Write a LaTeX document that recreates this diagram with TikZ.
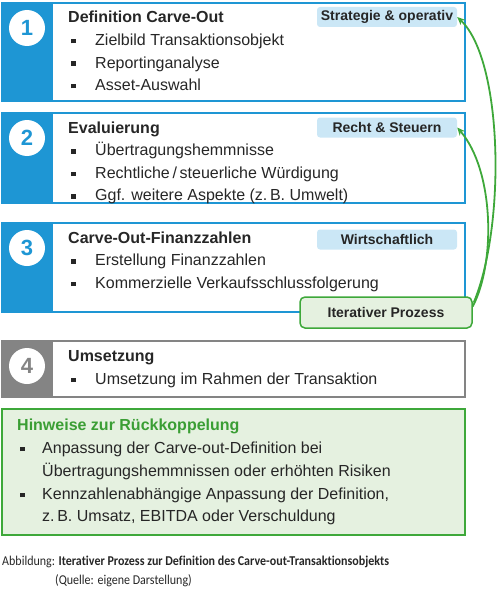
\documentclass[tikz,border=0pt]{standalone}
\usepackage{fontspec}
\setmainfont{Liberation Sans}
\newfontfamily\capfont[Ligatures=NoCommon]{Carlito}
\usetikzlibrary{arrows.meta}

\definecolor{cblue}{HTML}{1E96D4}
\definecolor{cgray}{HTML}{848484}
\definecolor{ctag}{HTML}{CBE7F6}
\definecolor{ctext}{HTML}{262626}
\definecolor{cgreen}{HTML}{3EA83A}
\definecolor{cgreenbg}{HTML}{E5F1E0}
\definecolor{cgreentxt}{HTML}{3A9E34}

\newcommand{\blt}[1][24pt]{\makebox[#1][l]{\rule[2pt]{4.5pt}{4.5pt}}}

\begin{document}
\begin{tikzpicture}
	[x=1pt,y=-1pt,font=\fontsize{16}{19}\selectfont,
	every node/.style={inner sep=0pt,text=ctext},
	frame/.style={draw=#1,line width=2pt,anchor=north west,minimum width=463pt},
	strip/.style={fill=#1,anchor=north west,minimum width=52pt},
	num/.style={circle,fill=white,minimum size=36pt,font=\fontsize{22}{22}\selectfont\bfseries},
	ttl/.style={anchor=base west,font=\fontsize{16}{19}\selectfont\bfseries},
	item/.style={anchor=base west},
	tag/.style={fill=ctag,rounded corners=3pt,minimum width=140pt,minimum height=20pt,
		font=\fontsize{14}{16}\selectfont\bfseries},
	capt/.style={anchor=base west,font=\capfont\fontsize{13.5}{16}\selectfont},
	loop/.style={draw=cgreen,line width=1.8pt,-{Stealth[length=8pt,width=7pt]}}]
	\useasboundingbox (0,0) rectangle (500,594);
	
	\foreach \n/\top/\h/\col in {1/2/98/cblue,2/112/90/cblue,3/222/89/cblue,4/340/56/cgray}
	{
		\node[strip=\col,minimum height=\h pt] (s\n) at (1,\top) {};
		\node[frame=\col,minimum height=\h pt] (b\n) at (1,\top) {};
		\node[num,text=\col] (c\n) at (27,\top+26) {\n};
	}
	
	\node[ttl] (h1) at (68,23) {Definition Carve-Out};
	\node[item] (p11) at (71,45.5) {\blt Zielbild Transaktionsobjekt};
	\node[item] (p12) at (71,68) {\blt Reportinganalyse};
	\node[item] (p13) at (71,90.5) {\blt Asset-Auswahl};
	
	\node[ttl] (h2) at (68,133) {Evaluierung};
	\node[item] (p21) at (71,155.5) {\blt Übertragungshemmnisse};
	\node[item] (p22) at (71,178) {\blt Rechtliche\,/\,steuerliche Würdigung};
	\node[item] (p23) at (71,200.5) {\blt Ggf. weitere Aspekte (z.\,B. Umwelt)};
	
	\node[ttl] (h3) at (68,243) {Carve-Out-Finanzzahlen};
	\node[item] (p31) at (71,265.5) {\blt Erstellung Finanzzahlen};
	\node[item] (p32) at (71,288) {\blt Kommerzielle Verkaufsschlussfolgerung};
	
	\node[ttl] (h4) at (68,361) {Umsetzung};
	\node[item] (p41) at (71,384) {\blt Umsetzung im Rahmen der Transaktion};
	
	\node[tag] (t1) at (387,17) {Strategie \& operativ};
	\node[tag] (t2) at (387,127.5) {Recht \& Steuern};
	\node[tag] (t3) at (387,239.5) {Wirtschaftlich};
	
	\node[fill=cgreenbg,draw=cgreen,line width=1.5pt,rounded corners=5pt,
		minimum width=172pt,minimum height=31pt,font=\fontsize{14}{16}\selectfont\bfseries]
		(it) at (386,312.5) {Iterativer Prozess};
	
	\draw[loop] ([xshift=1pt,yshift=10pt]it.east) .. controls (506,225) and (503,60) .. (t1.east);
	\draw[loop] ([yshift=6pt]it.east) .. controls (496,262) and (494,170) .. (t2.east);
	
	\node[frame=cgreen,fill=cgreenbg,minimum height=126pt] (hw) at (1,408) {};
	\node[ttl,text=cgreentxt] (h5) at (17,430) {Hinweise zur Rückkoppelung};
	\node[item] (p51) at (20,453) {\blt[22pt]Anpassung der Carve-out-Definition bei};
	\node[item] (p52) at (42,476) {Übertragungshemmnissen oder erhöhten Risiken};
	\node[item] (p53) at (20,499) {\blt[22pt]Kennzahlenabhängige Anpassung der Definition,};
	\node[item] (p54) at (42,521) {z.\,B. Umsatz, EBITDA oder Verschuldung};
	
	\node[capt] (cap1) at (2,565)
		{\scalebox{0.89}[1]{Abbildung: \textbf{Iterativer Prozess zur Definition des Carve-out-Transaktionsobjekts}}};
	\node[capt] (cap2) at (55,584)
		{\scalebox{0.89}[1]{(Quelle: eigene Darstellung)}};
\end{tikzpicture}
\end{document}
